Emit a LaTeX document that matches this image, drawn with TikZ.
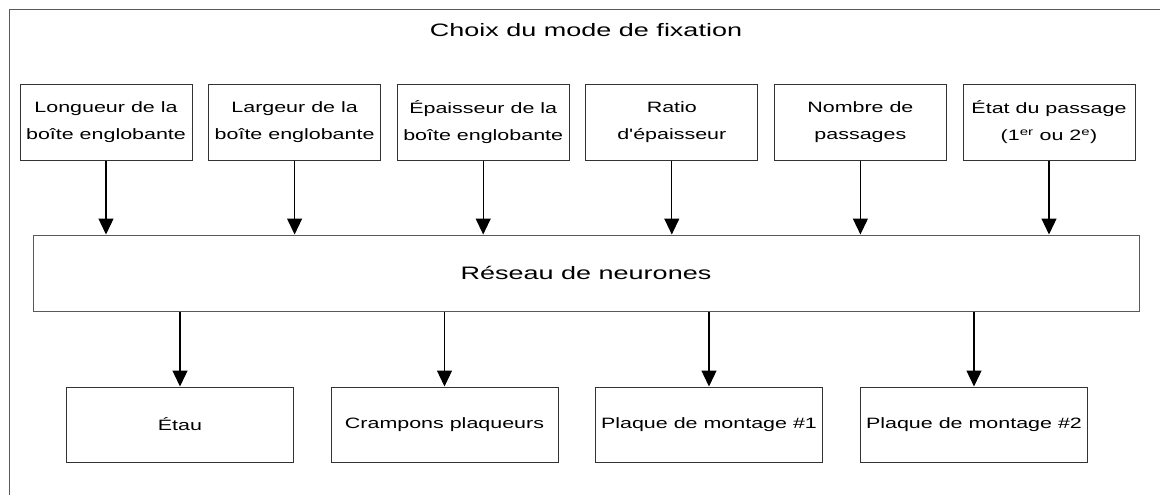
\documentclass[tikz,border=0pt]{standalone}
\usepackage{fontspec}
\setmainfont{Liberation Sans}
\newfontfamily\widefont[FakeStretch=1.43]{Liberation Sans}
\newfontfamily\widerfont[FakeStretch=1.5]{Liberation Sans}
\usetikzlibrary{arrows.meta}
\begin{document}
\begin{tikzpicture}[x=1pt,y=-1pt,
  boxtext/.style={font=\widefont\fontsize{15}{27}\selectfont, align=center},
  inbox/.style={draw=black!80, line width=1pt, minimum width=172pt, minimum height=75pt, inner sep=0pt, boxtext},
  outbox/.style={draw=black!80, line width=1pt, minimum width=227pt, minimum height=75pt, inner sep=0pt, boxtext},
  netbox/.style={draw=black!65, line width=1pt, minimum width=1106pt, minimum height=76pt, inner sep=0pt, font=\widerfont\fontsize{18}{22}\selectfont},
  flow/.style={draw=black, line width=1.3pt, -{Triangle[length=16pt,width=15pt]}}
]
\useasboundingbox (0,0) rectangle (1160,495);
\fill[white] (0,0) rectangle (1160,495);
\draw[black!65, line width=1pt] (1160,9.5) -- (9.5,9.5) -- (9.5,495);
\node[font=\widerfont\fontsize{18}{22}\selectfont] (title) at (586,30) {Choix du mode de fixation};

\node[inbox] (i1) at (106,122.5) {Longueur de la\\boîte englobante};
\node[inbox] (i2) at (294.6,122.5) {Largeur de la\\boîte englobante};
\node[inbox] (i3) at (483.2,122.5) {Épaisseur de la\\boîte englobante};
\node[inbox] (i4) at (671.8,122.5) {Ratio\\d'épaisseur};
\node[inbox] (i5) at (860.4,122.5) {Nombre de\\passages};
\node[inbox] (i6) at (1049,122.5) {État du passage\\(1\textsuperscript{er} ou 2\textsuperscript{e})};

\node[netbox] (net) at (586,273) {Réseau de neurones};

\node[outbox] (o1) at (180,424.5) {Étau};
\node[outbox] (o2) at (444.5,424.5) {Crampons plaqueurs};
\node[outbox] (o3) at (709,424.5) {Plaque de montage \#1};
\node[outbox] (o4) at (974,424.5) {Plaque de montage \#2};

\foreach \i in {1,...,6} {
  \draw[flow] (i\i.south) -- (i\i.south |- net.north);
}
\foreach \i in {1,...,4} {
  \draw[flow] (o\i.north |- net.south) -- (o\i.north);
}
\end{tikzpicture}
\end{document}
